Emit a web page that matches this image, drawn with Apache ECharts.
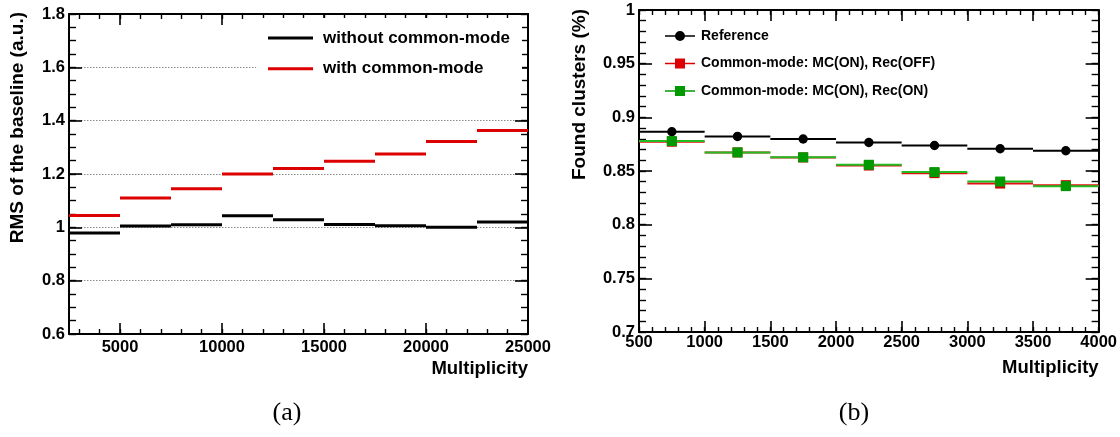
<!DOCTYPE html>
<html>
<head>
<meta charset="utf-8">
<script src="https://cdn.jsdelivr.net/npm/echarts@6/dist/echarts.min.js"></script>
<style>
html,body{margin:0;padding:0;background:#fff;}
#chart{width:1120px;height:437px;}
</style>
</head>
<body>
<div id="chart"></div>
<script>
// ---- data (a) ----
const leftBinCenters = [3750, 6250, 8750, 11250, 13750, 16250, 18750, 21250, 23750];
const leftBinWidth = 2500;
const leftWithout = [0.979, 1.005, 1.010, 1.043, 1.028, 1.011, 1.006, 1.000, 1.020];
const leftWith = [1.044, 1.110, 1.145, 1.200, 1.221, 1.248, 1.275, 1.322, 1.363];
const leftXLabels = [5000, 10000, 15000, 20000, 25000];
const leftXMinor = [3000,4000,5000,6000,7000,8000,9000,10000,11000,12000,13000,14000,15000,16000,17000,18000,19000,20000,21000,22000,23000,24000];
const leftSeriesNames = ['without common-mode', 'with common-mode'];

// ---- data (b) ----
const rightBinCenters = [750, 1250, 1750, 2250, 2750, 3250, 3750];
const rightBinWidth = 500;
const refValues = [0.8866, 0.8822, 0.8798, 0.8766, 0.8738, 0.8707, 0.8689];
const recOffValues = [0.8773, 0.8673, 0.8626, 0.8551, 0.8480, 0.8383, 0.8368];
const recOnValues = [0.8779, 0.8673, 0.8628, 0.8558, 0.8490, 0.8402, 0.8359];
const rightSeriesNames = ['Reference', 'Common-mode: MC(ON), Rec(OFF)', 'Common-mode: MC(ON), Rec(ON)'];

const FONT = '"Liberation Sans", Arial, sans-serif';

function pairs(xs, ys){ return xs.map((x,i)=>[x, ys[i]]); }
function plain(v){ return String(Math.round(v * 1e6) / 1e6); }

function binRender(width, color, lw, marker, markerColor){
  return function(params, api){
    const x = api.value(0), y = api.value(1);
    const p1 = api.coord([x - width/2, y]);
    const p2 = api.coord([x + width/2, y]);
    const pc = api.coord([x, y]);
    const children = [{type:'line', shape:{x1:p1[0], y1:p1[1], x2:p2[0], y2:p2[1]}, style:{stroke:color, lineWidth:lw}}];
    if (marker === 'circle') {
      children.push({type:'circle', shape:{cx:pc[0], cy:pc[1], r:4.7}, style:{fill:markerColor}});
    } else if (marker === 'square') {
      children.push({type:'rect', shape:{x:pc[0]-5, y:pc[1]-5, width:10, height:10}, style:{fill:markerColor}});
    }
    return {type:'group', children};
  };
}

const labelStyle = {fontFamily: FONT, fontWeight:'bold', fontSize:16.5, color:'#000', formatter: plain};
const frameLine = {show:true, lineStyle:{color:'#000', width:2}};
const noLine = {show:false};

function majorTick(len, extra){ return Object.assign({show:true, inside:true, length:len, lineStyle:{color:'#000', width:1.6}}, extra||{}); }
function minorTick(len, extra){ return Object.assign({show:true, inside:true, length:len, lineStyle:{color:'#000', width:1.4}}, extra||{}); }

const chart = echarts.init(document.getElementById('chart'), null, {renderer:'canvas'});

const option = {
  animation:false,
  backgroundColor:'#fff',
  grid:[
    {left:69, top:14, width:459, height:320},
    {left:639, top:10, width:460, height:322}
  ],
  xAxis:[
    {gridIndex:0, type:'value', position:'bottom', min:2500, max:25000,
     axisLine:frameLine, axisTick:majorTick(11, {customValues:leftXLabels}),
     axisLabel:Object.assign({show:true, margin:5, customValues:leftXLabels}, labelStyle),
     splitLine:{show:false},
     name:'Multiplicity', nameLocation:'end', nameGap:0,
     nameTextStyle:{fontFamily:FONT, fontWeight:'bold', fontSize:18.5, color:'#000', align:'right', verticalAlign:'top', padding:[25,0,0,0]}},
    {gridIndex:0, type:'value', position:'bottom', min:2500, max:25000,
     axisLine:noLine, axisTick:minorTick(5, {customValues:leftXMinor}), axisLabel:{show:false}, splitLine:{show:false}},
    {gridIndex:0, type:'value', position:'top', min:2500, max:25000,
     axisLine:frameLine, axisTick:majorTick(11, {customValues:leftXLabels}), axisLabel:{show:false}, splitLine:{show:false}},
    {gridIndex:0, type:'value', position:'top', min:2500, max:25000,
     axisLine:noLine, axisTick:minorTick(5, {customValues:leftXMinor}), axisLabel:{show:false}, splitLine:{show:false}},
    {gridIndex:1, type:'value', position:'bottom', min:500, max:4000, interval:500,
     axisLine:frameLine, axisTick:majorTick(11),
     axisLabel:Object.assign({show:true, margin:2}, labelStyle),
     splitLine:{show:false},
     name:'Multiplicity', nameLocation:'end', nameGap:0,
     nameTextStyle:{fontFamily:FONT, fontWeight:'bold', fontSize:18.5, color:'#000', align:'right', verticalAlign:'top', padding:[26,0,0,0]}},
    {gridIndex:1, type:'value', position:'bottom', min:500, max:4000, interval:100,
     axisLine:noLine, axisTick:minorTick(5), axisLabel:{show:false}, splitLine:{show:false}},
    {gridIndex:1, type:'value', position:'top', min:500, max:4000, interval:500,
     axisLine:frameLine, axisTick:majorTick(11), axisLabel:{show:false}, splitLine:{show:false}},
    {gridIndex:1, type:'value', position:'top', min:500, max:4000, interval:100,
     axisLine:noLine, axisTick:minorTick(5), axisLabel:{show:false}, splitLine:{show:false}}
  ],
  yAxis:[
    {gridIndex:0, type:'value', position:'left', min:0.6, max:1.8, interval:0.2,
     axisLine:frameLine, axisTick:majorTick(13),
     axisLabel:Object.assign({show:true, margin:4}, labelStyle),
     splitLine:{show:true, lineStyle:{color:'#8a8a8a', width:1, type:[1.5,1.5]}}},
    {gridIndex:0, type:'value', position:'left', min:0.6, max:1.8, interval:0.05,
     axisLine:noLine, axisTick:minorTick(7), axisLabel:{show:false}, splitLine:{show:false}},
    {gridIndex:0, type:'value', position:'right', min:0.6, max:1.8, interval:0.2,
     axisLine:frameLine, axisTick:majorTick(13), axisLabel:{show:false}, splitLine:{show:false}},
    {gridIndex:0, type:'value', position:'right', min:0.6, max:1.8, interval:0.05,
     axisLine:noLine, axisTick:minorTick(7), axisLabel:{show:false}, splitLine:{show:false}},
    {gridIndex:1, type:'value', position:'left', min:0.7, max:1.0, interval:0.05,
     axisLine:frameLine, axisTick:majorTick(13),
     axisLabel:Object.assign({show:true, margin:4}, labelStyle),
     splitLine:{show:false}},
    {gridIndex:1, type:'value', position:'left', min:0.7, max:1.0, interval:0.01,
     axisLine:noLine, axisTick:minorTick(7), axisLabel:{show:false}, splitLine:{show:false}},
    {gridIndex:1, type:'value', position:'right', min:0.7, max:1.0, interval:0.05,
     axisLine:frameLine, axisTick:majorTick(13), axisLabel:{show:false}, splitLine:{show:false}},
    {gridIndex:1, type:'value', position:'right', min:0.7, max:1.0, interval:0.01,
     axisLine:noLine, axisTick:minorTick(7), axisLabel:{show:false}, splitLine:{show:false}}
  ],
  legend:[
    {orient:'vertical', left:256, top:18, padding:[10,12,10,12], backgroundColor:'#fff',
     itemWidth:45, itemHeight:3, itemGap:10.7, selectedMode:false,
     textStyle:{fontFamily:FONT, fontWeight:'bold', fontSize:17, color:'#000', lineHeight:20, padding:[0,0,0,5]},
     data:[
       {name:leftSeriesNames[0], icon:'rect'},
       {name:leftSeriesNames[1], icon:'rect'}
     ]},
    {orient:'vertical', left:665, top:27, padding:0,
     itemWidth:30, itemHeight:10, itemGap:9.5, selectedMode:false,
     textStyle:{fontFamily:FONT, fontWeight:'bold', fontSize:14, color:'#000', lineHeight:18, padding:[0,0,0,1]},
     data:[
       {name:rightSeriesNames[0], icon:'path://M0,4.2L30,4.2L30,5.8L0,5.8Z M10,5A5,5 0 1,1 20,5A5,5 0 1,1 10,5Z'},
       {name:rightSeriesNames[1], icon:'path://M0,4.2L30,4.2L30,5.8L0,5.8Z M10,0L20,0L20,10L10,10Z'},
       {name:rightSeriesNames[2], icon:'path://M0,4.2L30,4.2L30,5.8L0,5.8Z M10,0L20,0L20,10L10,10Z'}
     ]}
  ],
  series:[
    {type:'custom', name:leftSeriesNames[0], xAxisIndex:0, yAxisIndex:0, itemStyle:{color:'#000'},
     renderItem:binRender(leftBinWidth, '#000', 3), data:pairs(leftBinCenters, leftWithout), z:3},
    {type:'custom', name:leftSeriesNames[1], xAxisIndex:0, yAxisIndex:0, itemStyle:{color:'#dd0000'},
     renderItem:binRender(leftBinWidth, '#dd0000', 3), data:pairs(leftBinCenters, leftWith), z:3},
    {type:'custom', name:rightSeriesNames[0], xAxisIndex:4, yAxisIndex:4, itemStyle:{color:'#000'},
     renderItem:binRender(rightBinWidth, '#000', 2, 'circle', '#000'), data:pairs(rightBinCenters, refValues), z:3},
    {type:'custom', name:rightSeriesNames[1], xAxisIndex:4, yAxisIndex:4, itemStyle:{color:'#dd0000'},
     renderItem:binRender(rightBinWidth, '#e01010', 2, 'square', '#cc0000'), data:pairs(rightBinCenters, recOffValues), z:3},
    {type:'custom', name:rightSeriesNames[2], xAxisIndex:4, yAxisIndex:4, itemStyle:{color:'#009a00'},
     renderItem:binRender(rightBinWidth, '#22bb22', 2, 'square', '#009a00'), data:pairs(rightBinCenters, recOnValues), z:4}
  ],
  graphic:[
    {type:'text', x:18, y:12, rotation:Math.PI/2,
     style:{text:'RMS of the baseline (a.u.)', fontFamily:FONT, fontWeight:'bold', fontSize:19, fill:'#000',
            textAlign:'right', textVerticalAlign:'middle', align:'right', verticalAlign:'middle'}},
    {type:'text', x:580, y:9, rotation:Math.PI/2,
     style:{text:'Found clusters (%)', fontFamily:FONT, fontWeight:'bold', fontSize:19, fill:'#000',
            textAlign:'right', textVerticalAlign:'middle', align:'right', verticalAlign:'middle'}},
    {type:'text', x:287, y:413,
     style:{text:'(a)', fontFamily:'"Liberation Serif", "DejaVu Serif", serif', fontSize:26, fill:'#000',
            textAlign:'center', textVerticalAlign:'middle', align:'center', verticalAlign:'middle'}},
    {type:'text', x:854, y:413,
     style:{text:'(b)', fontFamily:'"Liberation Serif", "DejaVu Serif", serif', fontSize:26, fill:'#000',
            textAlign:'center', textVerticalAlign:'middle', align:'center', verticalAlign:'middle'}}
  ]
};
chart.setOption(option);
</script>
</body>
</html>
